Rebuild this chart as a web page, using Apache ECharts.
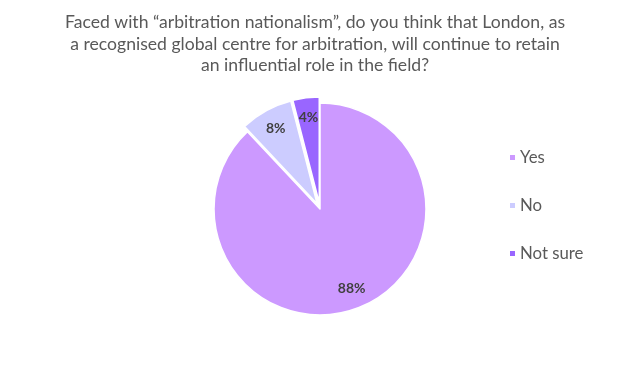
<!DOCTYPE html>
<html><head><meta charset="utf-8">
<script src="https://cdn.jsdelivr.net/npm/echarts@6/dist/echarts.min.js"></script>
<style>html,body{margin:0;padding:0;background:#fff}#c{width:630px;height:369px}</style>
</head><body><div id="c"></div>
<script>
const titleText = 'Faced with \u201carbitration nationalism\u201d, do you think that London, as\na recognised global centre for arbitration, will continue to retain\nan influential role in the field?';
const categories = ['Yes', 'No', 'Not sure'];
const values = [88, 8, 4];
const colors = ['#CC99FF', '#CCCCFF', '#9966FF'];
const exploded = [false, true, true];

const font = 'Lato, "Open Sans", sans-serif';
const data = categories.map((n, i) => ({ name: n, value: values[i], selected: exploded[i], itemStyle: { color: colors[i] } }));
const labelData = categories.map((n, i) => ({ name: n, value: values[i], selected: exploded[i] }));

const chart = echarts.init(document.getElementById('c'), null, { renderer: 'canvas' });
chart.setOption({
  animation: false,
  backgroundColor: '#fff',
  title: {
    text: titleText, left: 'center', top: 7,
    textStyle: { fontFamily: font, fontSize: 17.6, fontWeight: 'normal', color: '#595959', lineHeight: 21.5 }
  },
  legend: {
    orient: 'vertical', left: 503, top: 144, itemGap: 31,
    itemWidth: 7, itemHeight: 7, icon: 'rect',
    data: categories,
    textStyle: { fontFamily: font, fontSize: 16.8, color: '#595959', padding: [0, 0, 0, -1] }
  },
  series: [{
    type: 'pie', center: [320, 209], radius: [0, 106],
    startAngle: 90, clockwise: true,
    selectedMode: 'multiple', selectedOffset: 6,
    label: { show: false }, labelLine: { show: false },
    itemStyle: { borderColor: '#fff', borderWidth: 1.5 },
    emphasis: { disabled: true },
    data: data
  }, {
    type: 'pie', center: [320, 209], radius: [60, 106],
    startAngle: 90, clockwise: true, silent: true,
    selectedMode: 'multiple', selectedOffset: 6,
    itemStyle: { color: 'rgba(0,0,0,0)' },
    label: { show: true, position: 'inside', formatter: '{c}%', fontFamily: font, fontSize: 14, fontWeight: 'bold', color: '#404040' },
    labelLine: { show: false },
    emphasis: { disabled: true },
    tooltip: { show: false },
    data: labelData
  }]
});
</script></body></html>
